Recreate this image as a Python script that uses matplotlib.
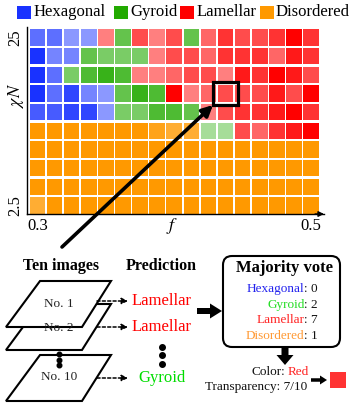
import matplotlib
matplotlib.use("Agg")
import matplotlib.pyplot as plt
from matplotlib.patches import Rectangle, Polygon, FancyBboxPatch
from matplotlib.colors import to_rgba
import numpy as np

plt.rcParams['font.family'] = ['Liberation Serif', 'DejaVu Serif']
plt.rcParams['mathtext.fontset'] = 'stix'

# ---------------- data ----------------
f_values = [0.3 + 0.0125 * i for i in range(17)]
chiN_values = [25.0, 22.5, 20.0, 17.5, 15.0, 12.5, 10.0, 7.5, 5.0, 2.5]  # top -> bottom

phase_rows = [
    "HHHHLGLLLGLLLLLLL",
    "HHHGGGGLLLLLLLLLL",
    "HHGGGGLLLLLLLLLLL",
    "HHHHHGGGLLLLLLLLL",
    "HHHHHGGGGGLLLLLLL",
    "DDDDDDDDDDGGLLLLL",
    "DDDDDDDDDDDDDDDDD",
    "DDDDDDDDDDDDDDDDD",
    "DDDDDDDDDDDDDDDDD",
    "DDDDDDDDDDDDDDDDD",
]
vote_rows = [
    [7, 7, 5, 5, 5, 7, 7, 5, 7, 7, 6, 8, 7, 7, 8, 10, 8],
    [10, 6, 6, 7, 6, 6, 6, 5, 7, 7, 6, 8, 8, 8, 6, 9, 8],
    [10, 7, 6, 8, 9, 8, 5, 5, 6, 7, 7, 5, 9, 8, 10, 9, 7],
    [10, 7, 9, 6, 5, 7, 9, 8, 10, 5, 6, 7, 7, 7, 9, 7, 10],
    [8, 8, 9, 9, 5, 6, 6, 8, 8, 7, 5, 7, 8, 8, 9, 10, 8],
    [10, 10, 10, 10, 10, 10, 10, 9, 8, 8, 4, 4, 7, 6, 8, 9, 10],
    [10] * 17,
    [10] * 17,
    [10] * 17,
    [8] + [10] * 16,
]
phase_names = ["Hexagonal", "Gyroid", "Lamellar", "Disordered"]
phase_keys = ["H", "G", "L", "D"]
phase_colors = ["#1932ff", "#22aa00", "#ff0000", "#ff9900"]
text_colors = ["#2222ee", "#22dd22", "#ff2222", "#ff9933"]

vote_counts = [0, 2, 7, 1]
highlight = (11, 3)  # column, row of highlighted cell

# ---------------- figure ----------------
W, H = 357, 411
fig = plt.figure(figsize=(W / 100, H / 100), dpi=100)

def fx(px):
    return px / W

def fy(py):
    return 1 - py / H

# heatmap axes
ax_l, ax_r, ax_t, ax_b = 27, 324, 27, 214
ax = fig.add_axes([fx(ax_l), fy(ax_b), (ax_r - ax_l) / W, (ax_b - ax_t) / H])
px_per_f = 17.1 / 0.0125
px_per_chi = 18.67 / 2.5
x0 = 0.3 - (37.5 - ax_l) / px_per_f
x1 = 0.3 + (ax_r - 37.5) / px_per_f
y0 = 2.5 - (ax_b - 205.5) / px_per_chi
y1 = 25 + (37.5 - ax_t) / px_per_chi
ax.set_xlim(x0, x1)
ax.set_ylim(y0, y1)

cw = 15.6 / px_per_f
ch = 16.2 / px_per_chi
cmap = dict(zip(phase_keys, phase_colors))
for r, chi in enumerate(chiN_values):
    for c, fv in enumerate(f_values):
        col = to_rgba(cmap[phase_rows[r][c]], vote_rows[r][c] / 10)
        ax.add_patch(Rectangle((fv - cw / 2, chi - ch / 2), cw, ch,
                               facecolor=col, edgecolor='none'))

# highlighted cell box
hc, hr = highlight
bw = 24.5 / px_per_f
bh = 24 / px_per_chi
ax.add_patch(Rectangle((f_values[hc] - bw / 2, chiN_values[hr] - bh / 2), bw, bh,
                       facecolor='none', edgecolor='black', lw=2.3, zorder=5))

for s in ['top', 'right']:
    ax.spines[s].set_visible(False)
ax.spines['left'].set_linewidth(1.0)
ax.spines['bottom'].set_linewidth(1.0)
ax.set_xticks([0.3, 0.5], ['0.3', '0.5'], fontsize=12)
ax.set_yticks([2.5, 25], ['2.5', '25'], fontsize=12, rotation=90, va='center')
ax.tick_params(length=0, pad=3)
ax.annotate('', xy=(1.0, 0), xytext=(0.97, 0), xycoords='axes fraction',
            arrowprops=dict(arrowstyle='-|>', color='black', lw=1.0,
                            mutation_scale=8, shrinkA=0, shrinkB=0))

# overlay axes in pixel coordinates
ov = fig.add_axes([0, 0, 1, 1])
ov.set_xlim(0, W)
ov.set_ylim(H, 0)
ov.axis('off')
ov.patch.set_alpha(0)

# axis labels
ov.text(172, 226, '$f$', fontsize=13, ha='center', va='center')
ov.text(16, 95, r'$\chi N$', fontsize=13, ha='center', va='center', rotation=90)

# legend
leg_x = [17, 113.5, 180, 259.5]
for lx, name, colr in zip(leg_x, phase_names, phase_colors):
    ov.add_patch(Rectangle((lx, 6), 14, 13, facecolor=colr, edgecolor='none'))
    ov.text(lx + 16.5, 12.5, name, fontsize=12, ha='left', va='center')

# long arrow from diagram to highlighted cell
ov.annotate('', xy=(213, 105), xytext=(62, 247),
            arrowprops=dict(arrowstyle='-|>', color='black', lw=2.6,
                            mutation_scale=16, shrinkA=0, shrinkB=0))

# headers
ov.text(61, 266, 'Ten images', fontsize=11.5, fontweight='bold', ha='center', va='center')
ov.text(161, 266, 'Prediction', fontsize=11.5, fontweight='bold', ha='center', va='center')

# stacked images
def para(top, bottom):
    return [(40, top), (111, top), (82, bottom), (6, bottom)]

for top, bot, label, ty in [(355, 401, 'No. 10', 377), (304, 350, 'No. 2', 327.5),
                            (281, 327, 'No. 1', 304)]:
    ov.add_patch(Polygon(para(top, bot), closed=True, facecolor='white',
                         edgecolor='black', lw=1.5))
    ov.text(59, ty, label, fontsize=9.5, ha='center', va='center', color='#222222')

ov.plot([58.5, 58.5, 58.5], [354, 359.5, 365], 'o', color='black', ms=3.3)

# dashed arrows and predictions
preds = ['Lamellar', 'Lamellar', 'Gyroid']
pred_colors = ['#ff0000', '#ff0000', '#00dd00']
for y, p, pc in zip([301, 327, 378], preds, pred_colors):
    ov.annotate('', xy=(128, y), xytext=(97, y),
                arrowprops=dict(arrowstyle='-|>', color='black', lw=1.1,
                                linestyle=(0, (2, 1.5)), mutation_scale=9,
                                shrinkA=0, shrinkB=0))
    ov.text(162, y, p, fontsize=12, color=pc, ha='center', va='center')
ov.plot([162, 162, 162], [347, 355, 363.5], 'o', color='black', ms=4)

# fat arrow to majority vote
ov.arrow(197, 311, 25, 0, width=6, head_width=15, head_length=12,
         length_includes_head=True, color='black', lw=0)

# majority vote box
ov.add_patch(FancyBboxPatch((223, 256), 117, 91,
                            boxstyle='round,pad=0,rounding_size=9',
                            facecolor='white', edgecolor='black', lw=1.5))
ov.text(285, 268, 'Majority vote', fontsize=12, fontweight='bold', ha='center', va='center')
for y, name, tc, n in zip([289, 304.5, 320, 336], phase_names, text_colors, vote_counts):
    ov.text(304.5, y, name, fontsize=9.5, color=tc, ha='right', va='center')
    ov.text(304.5, y, ': %d' % n, fontsize=9.5, color='#111111', ha='left', va='center')

# down arrow
ov.arrow(285, 348, 0, 17, width=7, head_width=17, head_length=10,
         length_includes_head=True, color='black', lw=0)

ov.text(285, 372, 'Color:', fontsize=9.5, color='#111111', ha='right', va='center')
ov.text(288, 372, 'Red', fontsize=9.5, color='#ff2222', ha='left', va='center')
ov.text(307, 387, 'Transparency: 7/10', fontsize=9.5, color='#111111', ha='right', va='center')

ov.arrow(311, 380, 16, 0, width=3.5, head_width=9, head_length=7,
         length_includes_head=True, color='black', lw=0)
ov.add_patch(Rectangle((330, 372), 16, 16, facecolor=to_rgba('#ff0000', 0.8),
                       edgecolor='none'))

fig.savefig('out.png', dpi=100)
